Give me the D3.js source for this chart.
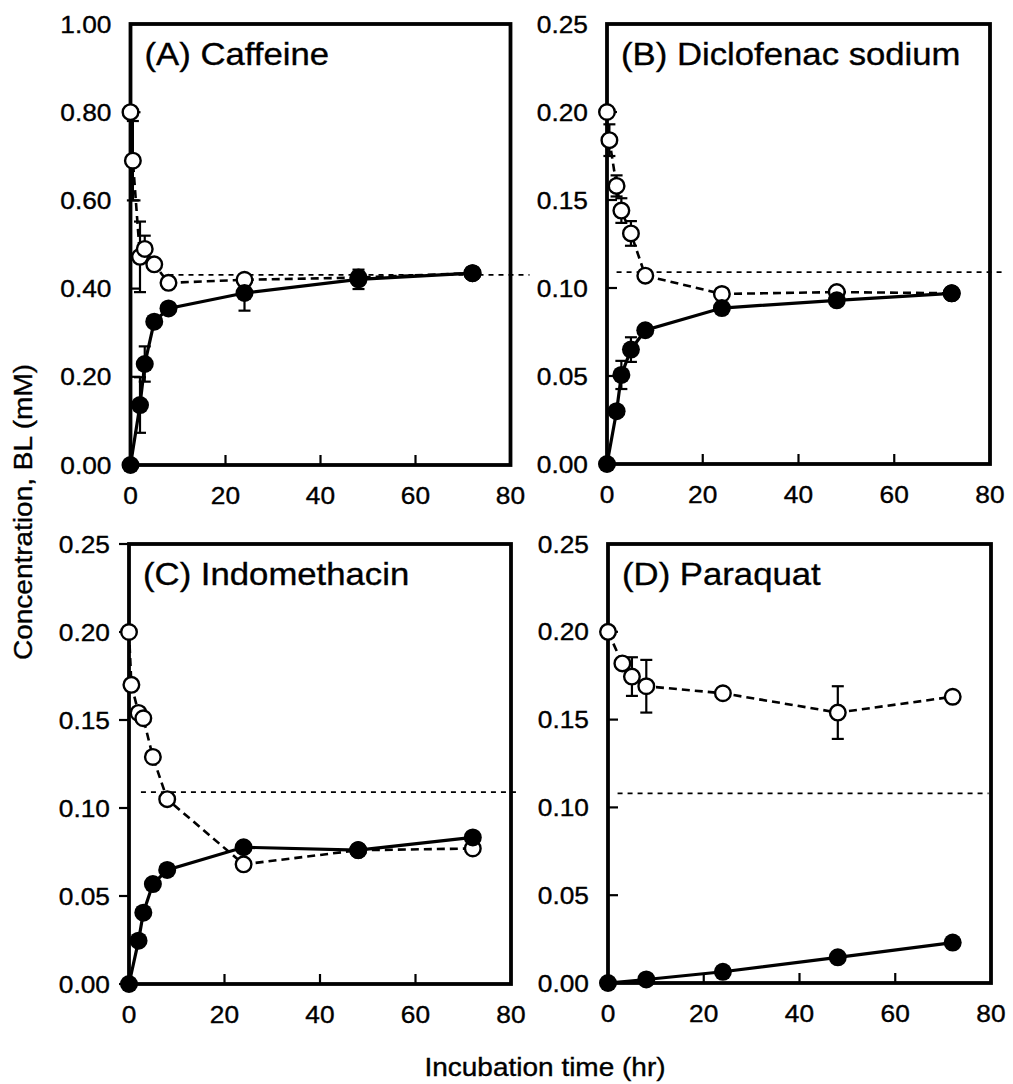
<!DOCTYPE html>
<html>
<head>
<meta charset="utf-8">
<script src="https://cdn.jsdelivr.net/npm/d3@7"></script>
<style>
  html, body { margin: 0; padding: 0; background: #fff; }
  svg { display: block; }
  text { font-family: "Liberation Sans", Arial, Helvetica, sans-serif; fill: #000; stroke: #000; stroke-width: 0.35; }
</style>
</head>
<body>
<div id="app"></div>
<script>
// sampling times (hr)
const tOpen = [0, 0.5, 2, 3, 5, 8, 24, 48, 72];
const tFilled = [0, 2, 3, 5, 8, 24, 48, 72];

// (A) Caffeine
const caffeineOpen = [0.80, 0.69, 0.472, 0.49, 0.455, 0.413, 0.42, 0.425, 0.435];
const caffeineOpenErr = [0, 0.09, 0.08, 0.03, 0, 0, 0.01, 0, 0];
const caffeineFilled = [0, 0.136, 0.229, 0.325, 0.355, 0.39, 0.421, 0.435];
const caffeineFilledErr = [0, 0.063, 0.04, 0, 0, 0.04, 0.022, 0];

// (B) Diclofenac sodium
const diclofenacOpen = [0.20, 0.184, 0.158, 0.144, 0.131, 0.107, 0.0966, 0.0977, 0.097];
const diclofenacOpenErr = [0, 0.009, 0.006, 0.007, 0.007, 0, 0, 0, 0];
const diclofenacFilled = [0, 0.030, 0.0506, 0.065, 0.076, 0.0886, 0.093, 0.097];
const diclofenacFilledErr = [0, 0, 0.008, 0.007, 0, 0, 0, 0];

// (C) Indomethacin
const indomethacinOpen = [0.20, 0.170, 0.154, 0.151, 0.129, 0.105, 0.068, 0.076, 0.077];
const indomethacinOpenErr = [0, 0, 0, 0, 0, 0, 0, 0, 0];
const indomethacinFilled = [0, 0.0246, 0.0405, 0.0568, 0.0648, 0.0777, 0.0761, 0.0833];
const indomethacinFilledErr = [0, 0, 0, 0, 0, 0, 0, 0];

// (D) Paraquat
const tParaquatOpen = [0, 3, 5, 8, 24, 48, 72];
const paraquatOpen = [0.20, 0.182, 0.1745, 0.169, 0.165, 0.154, 0.163];
const paraquatOpenErr = [0, 0, 0.011, 0.015, 0, 0.015, 0];
const tParaquatFilled = [0, 8, 24, 48, 72];
const paraquatFilled = [0, 0.002, 0.0064, 0.0146, 0.023];
const paraquatFilledErr = [0, 0, 0, 0, 0];

const panelTitles = ["(A) Caffeine", "(B) Diclofenac sodium", "(C) Indomethacin", "(D) Paraquat"];
const yMax = [1.0, 0.25, 0.25, 0.25];
const yTicksA = [0, 0.2, 0.4, 0.6, 0.8, 1.0];
const yTicksOther = [0, 0.05, 0.10, 0.15, 0.20, 0.25];
const xTicks = [0, 20, 40, 60, 80];
// horizontal dashed equilibrium level and its extent (hr)
const refLevel = [0.431, 0.109, 0.109, 0.108];
const refStart = [8, 2, 2.5, 2];
const refEnd = [84, 83, 82, 79.5];

const width = 1013, height = 1084;
const stretch = 1.12;

const panels = [
  {x0: 130.5, y0: 24, w: 380, h: 441, tickOut: false,
   open: {t: tOpen, v: caffeineOpen, e: caffeineOpenErr},
   filled: {t: tFilled, v: caffeineFilled, e: caffeineFilledErr}, yTicks: yTicksA},
  {x0: 607, y0: 24, w: 383, h: 440, tickOut: false,
   open: {t: tOpen, v: diclofenacOpen, e: diclofenacOpenErr},
   filled: {t: tFilled, v: diclofenacFilled, e: diclofenacFilledErr}, yTicks: yTicksOther},
  {x0: 129, y0: 544, w: 382, h: 440, tickOut: true,
   open: {t: tOpen, v: indomethacinOpen, e: indomethacinOpenErr},
   filled: {t: tFilled, v: indomethacinFilled, e: indomethacinFilledErr}, yTicks: yTicksOther},
  {x0: 608, y0: 544, w: 383, h: 439, tickOut: false,
   open: {t: tParaquatOpen, v: paraquatOpen, e: paraquatOpenErr},
   filled: {t: tParaquatFilled, v: paraquatFilled, e: paraquatFilledErr}, yTicks: yTicksOther}
];

const svg = d3.select("#app").append("svg")
  .attr("width", width)
  .attr("height", height);

svg.append("rect").attr("width", width).attr("height", height).attr("fill", "#fff");

// text with the wide glyphs of the original typesetting
function label(g, x, y, str, size, anchor, rot) {
  return g.append("text")
    .attr("transform", `translate(${x},${y})` + (rot ? ` rotate(${rot})` : "") + ` scale(${stretch},1)`)
    .attr("font-size", size)
    .attr("text-anchor", anchor)
    .text(str);
}

panels.forEach((p, i) => {
  const g = svg.append("g");
  const x = d3.scaleLinear([0, 80], [p.x0, p.x0 + p.w]);
  const y = d3.scaleLinear([0, yMax[i]], [p.y0 + p.h, p.y0]);
  const bottom = p.y0 + p.h;

  // frame
  g.append("rect")
    .attr("x", p.x0).attr("y", p.y0)
    .attr("width", p.w).attr("height", p.h)
    .attr("fill", "none").attr("stroke", "#000").attr("stroke-width", 3.8);

  // y ticks + labels
  p.yTicks.forEach(v => {
    const dir = p.tickOut ? -1 : 1;
    if ((v > 0 && v < yMax[i]) || p.tickOut) {
      g.append("line")
        .attr("x1", p.x0).attr("x2", p.x0 + dir * 10)
        .attr("y1", y(v)).attr("y2", y(v))
        .attr("stroke", "#000").attr("stroke-width", 2.2);
    }
    label(g, p.x0 - 19, y(v) + 8.5, d3.format(".2f")(v), 23.5, "end");
  });

  // x ticks + labels
  xTicks.forEach(v => {
    if (v > 0 && v < 80) {
      g.append("line")
        .attr("x1", x(v)).attr("x2", x(v))
        .attr("y1", bottom).attr("y2", bottom - 10)
        .attr("stroke", "#000").attr("stroke-width", 2.2);
    }
    label(g, x(v), bottom + 39, String(v), 23.5, "middle");
  });

  // panel title
  label(g, p.x0 + 14, p.y0 + 41, panelTitles[i], 31, "start");

  // equilibrium level
  g.append("line")
    .attr("x1", x(refStart[i])).attr("x2", x(refEnd[i]))
    .attr("y1", y(refLevel[i])).attr("y2", y(refLevel[i]))
    .attr("stroke", "#000").attr("stroke-width", 1.8)
    .attr("stroke-dasharray", "5,5");

  const toPts = s => s.t.map((t, k) => ({t: t, v: s.v[k], e: s.e[k]}));
  const openPts = toPts(p.open);
  const filledPts = toPts(p.filled);
  const line = d3.line().x(d => x(d.t)).y(d => y(d.v));

  g.append("path").datum(openPts)
    .attr("d", line).attr("fill", "none")
    .attr("stroke", "#000").attr("stroke-width", 2.6)
    .attr("stroke-dasharray", "8,5");

  g.append("path").datum(filledPts)
    .attr("d", line).attr("fill", "none")
    .attr("stroke", "#000").attr("stroke-width", 3.2);

  // error bars
  const errs = openPts.concat(filledPts).filter(d => d.e > 0);
  const eg = g.append("g").attr("stroke", "#000").attr("stroke-width", 2.2);
  eg.selectAll("line.bar").data(errs).join("line")
    .attr("x1", d => x(d.t)).attr("x2", d => x(d.t))
    .attr("y1", d => y(d.v - d.e)).attr("y2", d => y(d.v + d.e));
  eg.selectAll("line.capHi").data(errs).join("line")
    .attr("x1", d => x(d.t) - 6).attr("x2", d => x(d.t) + 6)
    .attr("y1", d => y(d.v + d.e)).attr("y2", d => y(d.v + d.e));
  eg.selectAll("line.capLo").data(errs).join("line")
    .attr("x1", d => x(d.t) - 6).attr("x2", d => x(d.t) + 6)
    .attr("y1", d => y(d.v - d.e)).attr("y2", d => y(d.v - d.e));

  g.append("g").selectAll("circle").data(openPts).join("circle")
    .attr("cx", d => x(d.t)).attr("cy", d => y(d.v)).attr("r", 7.8)
    .attr("fill", "#fff").attr("stroke", "#000").attr("stroke-width", 2.4);

  g.append("g").selectAll("circle").data(filledPts).join("circle")
    .attr("cx", d => x(d.t)).attr("cy", d => y(d.v)).attr("r", 9)
    .attr("fill", "#000");
});

// axis titles
label(svg, 32, 512, "Concentration, BL (mM)", 25, "middle", -90);
label(svg, 545, 1076, "Incubation time (hr)", 25, "middle");
</script>
</body>
</html>
